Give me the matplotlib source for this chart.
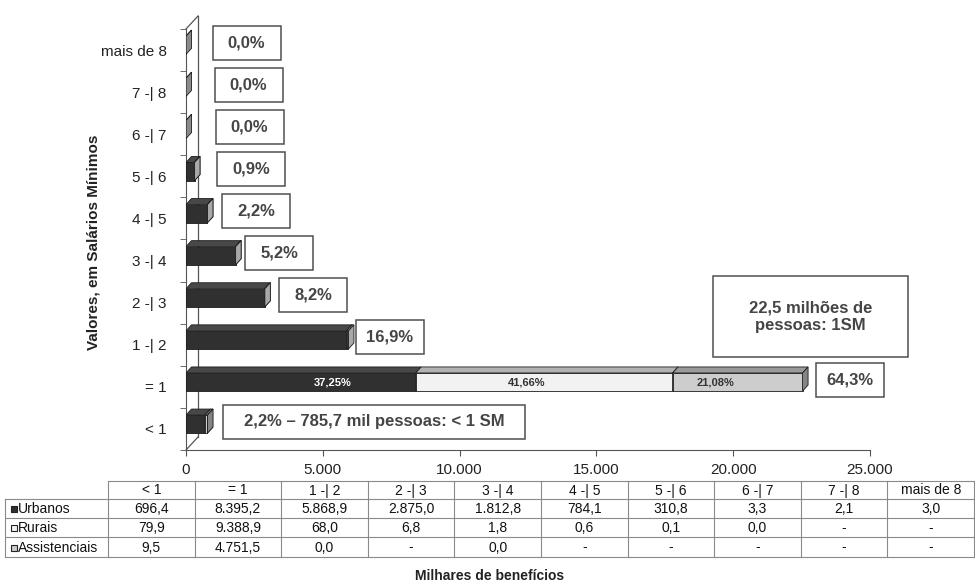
import numpy as np
import matplotlib.pyplot as plt
from matplotlib.patches import Rectangle, Polygon

plt.rcParams['font.family'] = ['Liberation Sans', 'DejaVu Sans']

categories = ["< 1", "= 1", "1 -| 2", "2 -| 3", "3 -| 4", "4 -| 5",
              "5 -| 6", "6 -| 7", "7 -| 8", "mais de 8"]
urbanos = [696.4, 8395.2, 5868.9, 2875.0, 1812.8, 784.1, 310.8, 3.3, 2.1, 3.0]
rurais = [79.9, 9388.9, 68.0, 6.8, 1.8, 0.6, 0.1, 0.0, None, None]
assistenciais = [9.5, 4751.5, 0.0, None, 0.0, None, None, None, None, None]
series_names = ["Urbanos", "Rurais", "Assistenciais"]
x_ticks = [0, 5000, 10000, 15000, 20000, 25000]
note_lt1 = "mil pessoas: < 1 SM"
note_lt1_people = "785,7"
note_eq1 = "22,5 milhões de\npessoas: 1SM"

front_colors = ["#303030", "#f2f2f2", "#cdcdcd"]
top_colors = ["#484848", "#b2b2b2", "#9a9a9a"]
side_colors = ["#8a8a8a", "#a8a8a8", "#858585"]
edge = "#1c1c1c"
txt = "#454545"


def br(v, d=1):
    s = f"{v:,.{d}f}"
    return s.replace(",", "X").replace(".", ",").replace("X", ".")


W, H = 975, 583
fig = plt.figure(figsize=(W / 100, H / 100), dpi=100)
ax = fig.add_axes([186 / W, (H - 450) / H, 684 / W, 421 / H])
ax.set_xlim(0, 25000)
ax.set_ylim(-0.5, 9.5)
PX = 25000 / 684   # data units per pixel, x
PY = 10 / 421      # data units per pixel, y

series = [np.array([0.0 if v is None else v for v in s]) for s in (urbanos, rurais, assistenciais)]
totals = series[0] + series[1] + series[2]
grand = totals.sum()

# wall of the 3d frame
wx, wy = 12 * PX, 13 * PY
ax.plot([0, wx], [9.5, 9.5 + wy], color="#555", lw=0.9, clip_on=False, zorder=1)
ax.plot([0, wx], [-0.5, -0.5 + wy], color="#555", lw=0.9, clip_on=False, zorder=1)
ax.plot([wx, wx], [-0.5 + wy, 9.5 + wy], color="#555", lw=0.9, clip_on=False, zorder=1)

# bars with depth
dx, dy = 5.5 * PX, 6 * PY
yc = np.arange(len(categories)) + 0.115
bh = 0.43
left = np.zeros(len(categories))
for k, vals in enumerate(series):
    for i, v in enumerate(vals):
        if v <= 0:
            continue
        l, r = left[i], left[i] + v
        b, t = yc[i] - bh / 2, yc[i] + bh / 2
        ax.barh(yc[i], v, left=l, height=bh, color=front_colors[k],
                edgecolor=edge, lw=0.6, zorder=3)
        ax.add_patch(Polygon([(l, t), (l + dx, t + dy), (r + dx, t + dy), (r, t)],
                             closed=True, fc=top_colors[k], ec=edge, lw=0.6, zorder=3))
        ax.add_patch(Polygon([(r, b), (r + dx, b + dy), (r + dx, t + dy), (r, t)],
                             closed=True, fc=side_colors[k], ec=edge, lw=0.6, zorder=3))
    left += vals

# percentages inside the "= 1" bar
inner_pos = [0.64, 0.43, 0.33]
inner_col = ["white", "#333", "#333"]
start = 0
for k in range(3):
    v = series[k][1]
    ax.text(start + inner_pos[k] * v, yc[1] - 0.02, br(100 * v / totals[1], 2) + "%",
            ha="center", va="center", fontsize=8, fontweight="bold",
            color=inner_col[k], zorder=4)
    start += v

# boxes with the share of each row
gaps = [10, 8, 2, 9, 4, 9, 17, 24, 23, 21]
bw, bhx = 68 * PX, 34 * PY
for i in range(len(categories)):
    pct = br(100 * totals[i] / grand) + "%"
    x0 = totals[i] + dx + gaps[i] * PX
    cy = yc[i] + 2.5 * PY
    if i == 0:
        w = 302 * PX
        label = f"{pct} – {note_lt1_people} {note_lt1}"
    else:
        w = bw
        label = pct
    ax.add_patch(Rectangle((x0, cy - bhx / 2), w, bhx, fc="white", ec="#505050",
                           lw=1.1, clip_on=False, zorder=4))
    ax.text(x0 + w / 2, cy, label, ha="center", va="center", fontsize=12,
            fontweight="bold", color=txt, zorder=5, clip_on=False)

# large note above the "= 1" bar
nw, nh = 195 * PX, 81 * PY
nx = totals[1] + dx + 2.5 * PX
ny = 1 + 0.709
ax.add_patch(Rectangle((nx - nw / 2, ny), nw, nh, fc="white", ec="#505050",
                       lw=1.1, clip_on=False, zorder=4))
ax.text(nx, ny + nh / 2, note_eq1, ha="center", va="center", fontsize=12,
        fontweight="bold", color=txt, linespacing=1.25, zorder=5, clip_on=False)

# axes styling
for s in ["top", "right"]:
    ax.spines[s].set_visible(False)
ax.spines["left"].set_color("#555")
ax.spines["bottom"].set_color("#555")
ax.set_xticks(x_ticks)
ax.set_xticklabels([br(v, 0) for v in x_ticks])
ax.tick_params(axis="x", direction="out", length=4, pad=5, labelsize=11,
               color="#555", labelcolor="#222")
ax.set_yticks(np.arange(len(categories)))
ax.set_yticklabels(categories)
ax.tick_params(axis="y", which="major", length=0, pad=14, labelsize=11, labelcolor="#222")
ax.set_yticks(np.arange(-0.5, len(categories), 1), minor=True)
ax.tick_params(axis="y", which="minor", direction="out", length=4, color="#555")

# overlay in pixel coordinates for table and titles
ov = fig.add_axes([0, 0, 1, 1])
ov.set_xlim(0, W)
ov.set_ylim(H, 0)
ov.axis("off")
ov.patch.set_alpha(0)

ov.text(93, 242, "Valores, em Salários Mínimos", rotation=90, ha="center",
        va="center", fontsize=11, fontweight="bold", color="#222")
ov.text(490, 576, "Milhares de benefícios", ha="center", va="center",
        fontsize=10, fontweight="bold", color="#222")

rows_y = [481, 499, 518, 537, 557]
col_l, col_h, col_w = 5, 108, 86.6
col_x = [col_h + j * col_w for j in range(len(categories) + 1)]
col_x[-1] = 974
lc = "#8a8a8a"
ov.plot([col_h, col_x[-1]], [rows_y[0]] * 2, color=lc, lw=0.8)
for yy in rows_y[1:]:
    ov.plot([col_l, col_x[-1]], [yy] * 2, color=lc, lw=0.8)
ov.plot([col_l, col_l], [rows_y[1], rows_y[-1]], color=lc, lw=0.8)
for xx in col_x:
    ov.plot([xx, xx], [rows_y[0], rows_y[-1]], color=lc, lw=0.8)

for j, c in enumerate(categories):
    ov.text((col_x[j] + col_x[j + 1]) / 2, (rows_y[0] + rows_y[1]) / 2 + 0.5, c,
            ha="center", va="center", fontsize=10, color="#111")

raw = [urbanos, rurais, assistenciais]
for k, name in enumerate(series_names):
    ym = (rows_y[k + 1] + rows_y[k + 2]) / 2 + 0.5
    ov.add_patch(Rectangle((11, ym - 3), 6, 6, fc=front_colors[k], ec="#222", lw=0.8))
    ov.text(18, ym, name, ha="left", va="center", fontsize=10, color="#111")
    for j, v in enumerate(raw[k]):
        ov.text((col_x[j] + col_x[j + 1]) / 2, ym, "-" if v is None else br(v),
                ha="center", va="center", fontsize=10, color="#111")

fig.savefig("out.png", dpi=100)
